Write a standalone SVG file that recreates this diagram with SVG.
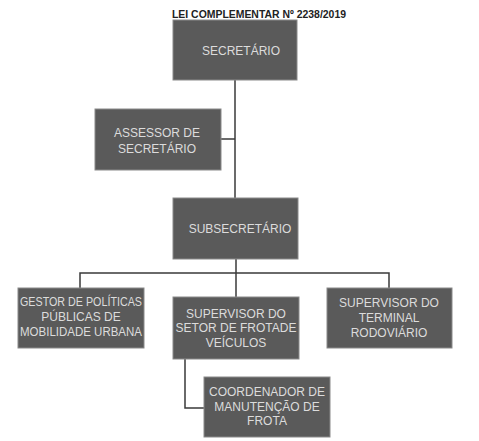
<svg xmlns="http://www.w3.org/2000/svg" width="479" height="441" viewBox="0 0 479 441">
<style>
.box{fill:#5a5a5a;stroke:#8a8a8a;stroke-width:1}
.t{font-family:"Liberation Sans",Arial,sans-serif;font-size:12px;fill:#dcdcdc;text-anchor:middle}
.c{fill:none;stroke:#3a3a3a;stroke-width:1.5}
</style>
<rect width="479" height="441" fill="#ffffff"/>
<text x="259" y="18" font-family="Liberation Sans,Arial,sans-serif" font-size="10.5" font-weight="bold" fill="#222" text-anchor="middle" textLength="174" lengthAdjust="spacingAndGlyphs">LEI COMPLEMENTAR Nº 2238/2019</text>
<g id="connectors">
<path class="c" d="M235 80 V198"/>
<path class="c" d="M221 139 H235"/>
<path class="c" d="M236 259 V297"/>
<path class="c" d="M80 288 V273 H389 V288"/>
<path class="c" d="M185 359 V408 H204"/>
</g>
<g id="secretario">
<rect class="box" x="173" y="20" width="124" height="60"/>
<text class="t" x="241" y="55">SECRETÁRIO</text>
</g>
<g id="assessor">
<rect class="box" x="95" y="109" width="126" height="61"/>
<text class="t" x="157" y="137">ASSESSOR DE</text>
<text class="t" x="157" y="153">SECRETÁRIO</text>
</g>
<g id="subsecretario">
<rect class="box" x="173" y="198" width="125" height="61"/>
<text class="t" x="240" y="233">SUBSECRETÁRIO</text>
</g>
<g id="gestor">
<rect class="box" x="18" y="288" width="126" height="60"/>
<text class="t" x="81" y="306" textLength="122" lengthAdjust="spacingAndGlyphs">GESTOR DE POLÍTICAS</text>
<text class="t" x="81" y="321">PÚBLICAS DE</text>
<text class="t" x="81" y="336" textLength="122" lengthAdjust="spacingAndGlyphs">MOBILIDADE URBANA</text>
</g>
<g id="supervisor-frota">
<rect class="box" x="173" y="297" width="126" height="62"/>
<text class="t" x="236" y="318">SUPERVISOR DO</text>
<text class="t" x="236" y="332">SETOR DE FROTADE</text>
<text class="t" x="236" y="347">VEÍCULOS</text>
</g>
<g id="supervisor-terminal">
<rect class="box" x="327" y="288" width="125" height="60"/>
<text class="t" x="389" y="307">SUPERVISOR DO</text>
<text class="t" x="389" y="322">TERMINAL</text>
<text class="t" x="389" y="337">RODOVIÁRIO</text>
</g>
<g id="coordenador">
<rect class="box" x="204" y="377" width="126" height="60"/>
<text class="t" x="267" y="396">COORDENADOR DE</text>
<text class="t" x="267" y="411">MANUTENÇÃO DE</text>
<text class="t" x="267" y="425">FROTA</text>
</g>
</svg>
